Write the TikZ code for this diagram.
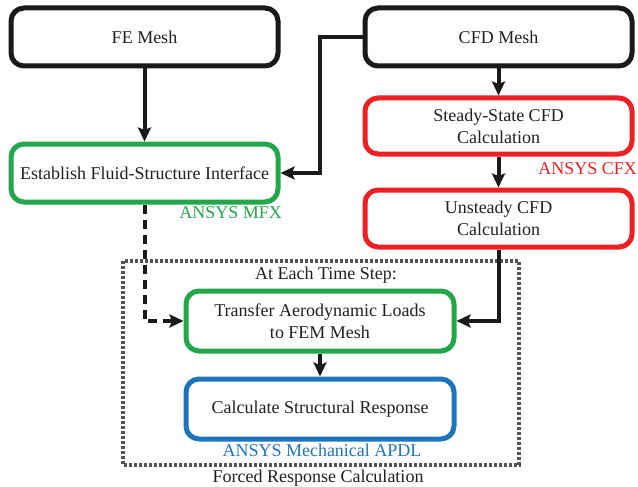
\documentclass[tikz,border=0pt]{standalone}
\usepackage{fontspec}
\setmainfont{Liberation Serif}
\usetikzlibrary{arrows.meta,calc}
\definecolor{tx}{HTML}{231F20}
\definecolor{gbox}{HTML}{22A84A}
\definecolor{rbox}{HTML}{EE2024}
\definecolor{bbox}{HTML}{1F75BC}
\definecolor{kbox}{HTML}{1A1A1A}
\begin{document}
\begin{tikzpicture}[x=1pt,y=-1pt,
  every node/.style={font=\fontsize{18}{22}\selectfont, text=tx},
  procbox/.style={draw, rectangle, rounded corners=13pt, line width=5pt, minimum width=267pt, minimum height=58pt, align=center, inner sep=0pt},
  arr/.style={draw=kbox, line width=4pt, -{Stealth[length=14pt,width=13pt,inset=2.5pt]}},
  lbl/.style={inner sep=0pt}
]
\useasboundingbox (0,0) rectangle (638,487);
\node[procbox, draw=kbox] (fe) at (144.5,37) {FE Mesh};
\node[procbox, draw=kbox] (cfd) at (498.5,37) {CFD Mesh};
\node[procbox, draw=gbox] (est) at (144.5,173) {Establish Fluid-Structure Interface};
\node[procbox, draw=rbox, minimum height=56pt] (ss) at (498.5,126) {Steady-State CFD\\Calculation};
\node[procbox, draw=rbox, minimum height=57pt] (uns) at (498.5,218.5) {Unsteady CFD\\Calculation};
\node[procbox, draw=gbox, minimum width=268pt, minimum height=60pt] (tr) at (320,321) {Transfer Aerodynamic Loads\\to FEM Mesh};
\node[procbox, draw=bbox, minimum width=268pt, minimum height=60pt] (cs) at (320,409) {Calculate Structural Response};
\draw[kbox!75, line width=3.5pt, dash pattern=on 3pt off 2pt] (123,261) rectangle (519,465);
\node[lbl] (step) at (326,275) {At Each Time Step:};
\node[lbl] (frc) at (318,478) {Forced Response Calculation};
\node[lbl, text=gbox, anchor=east] (mfx) at (282,213) {ANSYS MFX};
\node[lbl, text=rbox, anchor=east] (cfx) at (637,169) {ANSYS CFX};
\node[lbl, text=bbox] (apdl) at (322,450) {ANSYS Mechanical APDL};
\draw[arr] (fe.south) -- (est.north);
\draw[arr] (cfd.south) -- (ss.north);
\draw[arr] (ss.south) -- (uns.north);
\draw[arr] (tr.south) -- (cs.north);
\draw[arr] (cfd.west) -- ++(-43,0) |- (est.east);
\draw[arr, dash pattern=on 9pt off 6pt] (est.south) |- (tr.west);
\draw[arr] (uns.south) |- (tr.east);
\end{tikzpicture}
\end{document}
